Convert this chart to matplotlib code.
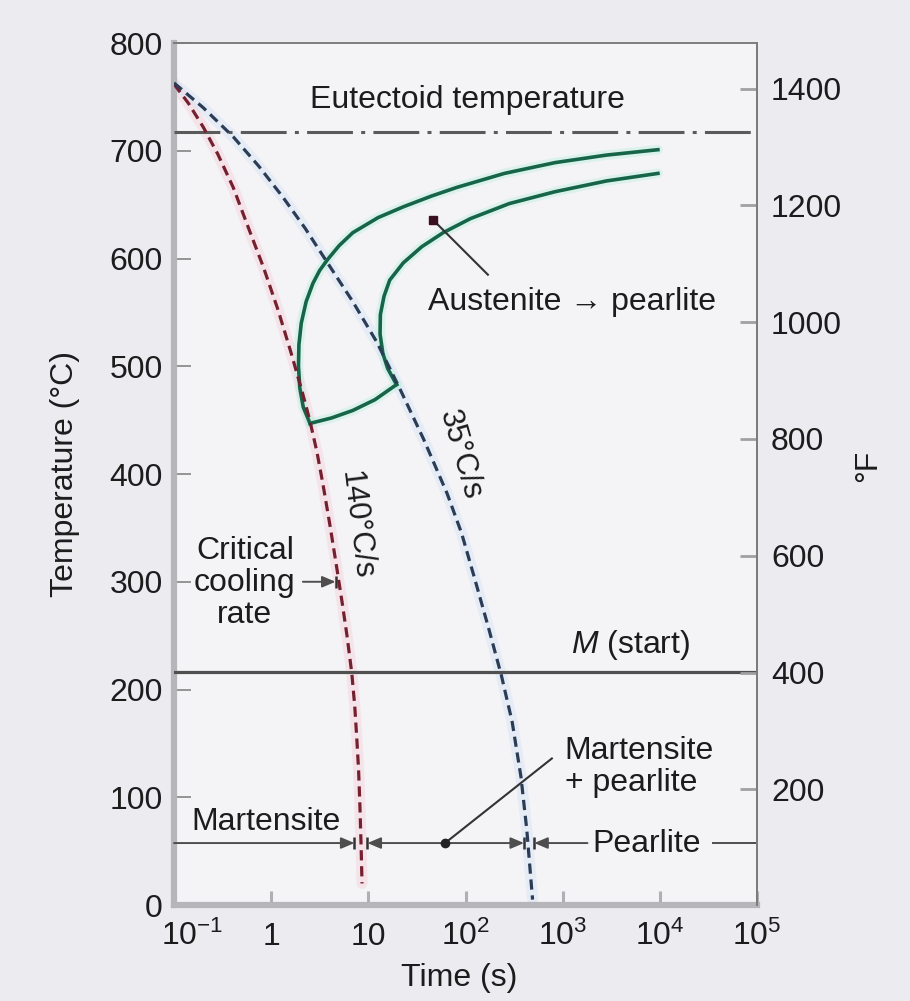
import matplotlib
matplotlib.use('Agg')
import matplotlib.pyplot as plt
from matplotlib.transforms import ScaledTranslation

plt.rcParams['font.family'] = ['Liberation Sans', 'DejaVu Sans']
plt.rcParams['mathtext.fontset'] = 'custom'
plt.rcParams['mathtext.rm'] = 'Liberation Sans'
plt.rcParams['mathtext.it'] = 'Liberation Sans:italic'
plt.rcParams['mathtext.bf'] = 'Liberation Sans:bold'

# ---------------- data ----------------
# 140 C/s cooling curve (critical cooling rate)
red_time = [0.10, 0.141, 0.20, 0.282, 0.407, 0.575, 0.832, 1.17, 1.585, 2.09, 2.51,
            2.95, 3.39, 4.07, 4.75, 5.37, 6.03, 6.76, 7.24, 7.59, 7.94, 8.17, 8.41, 8.61]
red_temp = [762, 744, 722, 697, 666, 630, 592, 553, 514, 476, 449,
            421, 392, 350, 312, 281, 250, 215, 185, 156, 125, 95, 57, 20]

# 35 C/s cooling curve
blue_time = [0.10, 0.20, 0.407, 0.741, 1.32, 2.24, 3.80, 6.92, 12.3, 21.4, 37.2,
             64.6, 91.2, 126, 174, 234, 302, 372, 427, 490]
blue_temp = [763, 740, 713, 686, 657, 628, 596, 560, 522, 478, 432,
             382, 345, 301, 256, 213, 170, 119, 70, 5]

# transformation start curve (austenite -> pearlite begins)
start_time = [2.51, 2.14, 1.97, 1.91, 1.93, 2.04, 2.29, 2.69, 3.16, 3.80, 5.01,
              6.92, 12.6, 22.9, 44.7, 81.3, 251, 832, 2820, 9550]
start_temp = [447, 462, 480, 500, 520, 540, 560, 577, 589, 599, 612,
              624, 638, 648, 658, 666, 679, 689, 696, 701]

# transformation finish curve
finish_time = [19.5, 15.8, 14.1, 13.2, 13.3, 14.5, 16.6, 22.9, 35.5, 58.9, 112,
               282, 832, 2820, 9550]
finish_temp = [483, 498, 512, 530, 548, 565, 580, 596, 611, 624, 637,
               651, 662, 672, 679]

# lower boundary joining the two curves
bottom_time = [2.51, 4.17, 6.92, 11.7, 19.5]
bottom_temp = [447, 452, 459, 469, 483]

eutectoid_temp = 717
ms_temp = 216
phase_band_temp = 57.5

xticks = [0.1, 1, 10, 100, 1e3, 1e4, 1e5]
xtick_labels = ['$10^{-1}$', '1', '10', '$10^2$', '$10^3$', '$10^4$', '$10^5$']
yticks_c = [0, 100, 200, 300, 400, 500, 600, 700, 800]
yticks_f = [200, 400, 600, 800, 1000, 1200, 1400]

# ---------------- styling ----------------
FS = 23
TXT = '#1c1c1c'
RED = '#74202f'
RED_GLOW = '#f4c2cf'
BLUE = '#2b3c56'
BLUE_GLOW = '#c8dcf4'
GREEN = '#176548'
GREEN_GLOW = '#aef0dc'
GRAYLINE = '#4e4e4e'

fig = plt.figure(figsize=(9.10, 10.01), dpi=100, facecolor='#ebebf0')
ax = fig.add_axes([0.1912, 0.0959, 0.6407, 0.8611])
ax.set_facecolor('#f4f3f6')
ax.set_xscale('log')
ax.set_xlim(0.1, 1e5)
ax.set_ylim(0, 800)

# glows
for t, T, c in [(red_time, red_temp, RED_GLOW), (blue_time, blue_temp, BLUE_GLOW)]:
    ax.plot(t, T, color=c, lw=8, alpha=0.3, solid_capstyle='round', zorder=2)
for t, T in [(start_time, start_temp), (finish_time, finish_temp), (bottom_time, bottom_temp)]:
    ax.plot(t, T, color=GREEN_GLOW, lw=7, alpha=0.35, solid_capstyle='round', zorder=2)

# reference lines
ax.plot([0.1, 1e5], [eutectoid_temp, eutectoid_temp], color='#5a5a5a', lw=2.2,
        linestyle=(0, (15, 2.7, 1.3, 2.7)), zorder=3)
ax.plot([0.1, 1e5], [ms_temp, ms_temp], color='#505050', lw=2.3, zorder=3)

# TTT curves
for t, T in [(start_time, start_temp), (finish_time, finish_temp), (bottom_time, bottom_temp)]:
    ax.plot(t, T, color=GREEN, lw=2.6, zorder=4, solid_joinstyle='round')

# cooling curves
ax.plot(red_time, red_temp, color=RED, lw=2.3, linestyle=(0, (3.2, 1.8)), zorder=5)
ax.plot(blue_time, blue_temp, color=BLUE, lw=2.3, linestyle=(0, (3.2, 1.8)), zorder=5)

# ---------------- annotations ----------------
AST = '-|>,head_length=0.4,head_width=0.17'


def arrow(x0, x1, y, bar=True):
    ax.annotate('', xy=(x1, y), xytext=(x0, y),
                arrowprops=dict(arrowstyle=AST, color=GRAYLINE, lw=1.4,
                                mutation_scale=20, shrinkA=0, shrinkB=0), zorder=6)
    if bar:
        ax.plot([x1], [y], marker='|', ms=9, mew=1.8, color='#333333', zorder=6)


y0 = phase_band_temp
arrow(0.1, 7.2, y0)
arrow(60, 9.8, y0)
arrow(60, 400, y0)
arrow(1800, 510, y0)
ax.plot([35000, 1e5], [y0, y0], color=GRAYLINE, lw=1.4, zorder=6)
ax.plot([61.6], [y0], marker='o', ms=6, color='#222222', zorder=7)
ax.plot([774, 61.6], [136, y0], color='#333333', lw=1.5, zorder=6)

# critical cooling rate arrow
arrow(2.12, 4.6, 300)

# austenite -> pearlite pointer
ax.plot([170, 46.2], [585, 636], color='#333333', lw=1.5, zorder=6)
ax.plot([46.2], [636], marker='s', ms=6, color='#3a1020', zorder=7)

tk = dict(fontsize=FS, color=TXT)
ax.text(105, 747, 'Eutectoid temperature', ha='center', va='center', **tk)
ax.text(5000, 241, r'$\mathit{M}$ (start)', ha='center', va='center', **tk)
ax.text(1245, 560, 'Austenite \u2192 pearlite', ha='center', va='center', **tk)
ax.text(0.537, 299, 'Critical\ncooling\nrate', ha='center', va='center',
        linespacing=1.08, **tk)
ax.text(0.885, 77, 'Martensite', ha='center', va='center', **tk)
ax.text(1050, 128, 'Martensite\n+ pearlite', ha='left', va='center',
        linespacing=1.08, **tk)
ax.text(7350, 57, 'Pearlite', ha='center', va='center', **tk)
ax.text(7.45, 353, '140\u00b0C/s', ha='center', va='center', rotation=-83,
        rotation_mode='anchor', fontsize=22, color=TXT)
ax.text(87.8, 418, '35\u00b0C/s', ha='center', va='center', rotation=-74,
        rotation_mode='anchor', fontsize=22, color=TXT)

# ---------------- axes ----------------
ax.set_xticks(xticks)
ax.set_xticklabels(xtick_labels)
ax.xaxis.set_minor_locator(matplotlib.ticker.NullLocator())
ax.set_yticks(yticks_c)
ax.tick_params(axis='y', direction='in', length=12, width=1.3, color='#8c8c8c',
               labelsize=FS, labelcolor=TXT, pad=8)
ax.tick_params(axis='x', direction='in', length=10, width=2.2, color='#b0b0b4',
               labelsize=FS, labelcolor=TXT, pad=29)
for lab in ax.get_xticklabels():
    lab.set_verticalalignment('baseline')
first = ax.xaxis.get_major_ticks()[0].label1
first.set_transform(first.get_transform() + ScaledTranslation(0.18, 0, fig.dpi_scale_trans))

for side in ['left', 'bottom']:
    ax.spines[side].set_color('#b6b6ba')
    ax.spines[side].set_linewidth(4.5)
for side in ['top', 'right']:
    ax.spines[side].set_color('#7c7c7c')
    ax.spines[side].set_linewidth(1.4)

ax.set_ylabel('Temperature (\u00b0C)', fontsize=FS, color=TXT)
ax.yaxis.set_label_coords(-0.161, 0.5)
ax.set_xlabel('Time (s)', fontsize=FS, color=TXT)
ax.xaxis.set_label_coords(0.49, -0.067)

ax2 = ax.twinx()
ax2.set_ylim(2, 1478)
ax2.set_yticks(yticks_f)
ax2.tick_params(axis='y', direction='in', length=12, width=2.0, color='#a0a0a4',
                labelsize=FS, labelcolor=TXT, pad=10)
for side in ['left', 'bottom', 'top']:
    ax2.spines[side].set_visible(False)
ax2.spines['right'].set_color('#7c7c7c')
ax2.spines['right'].set_linewidth(1.4)
ax2.set_ylabel('\u00b0F', fontsize=FS, color=TXT, rotation=90)
ax2.yaxis.set_label_coords(1.165, 0.51)

fig.savefig('out.png', dpi=100, facecolor=fig.get_facecolor())
